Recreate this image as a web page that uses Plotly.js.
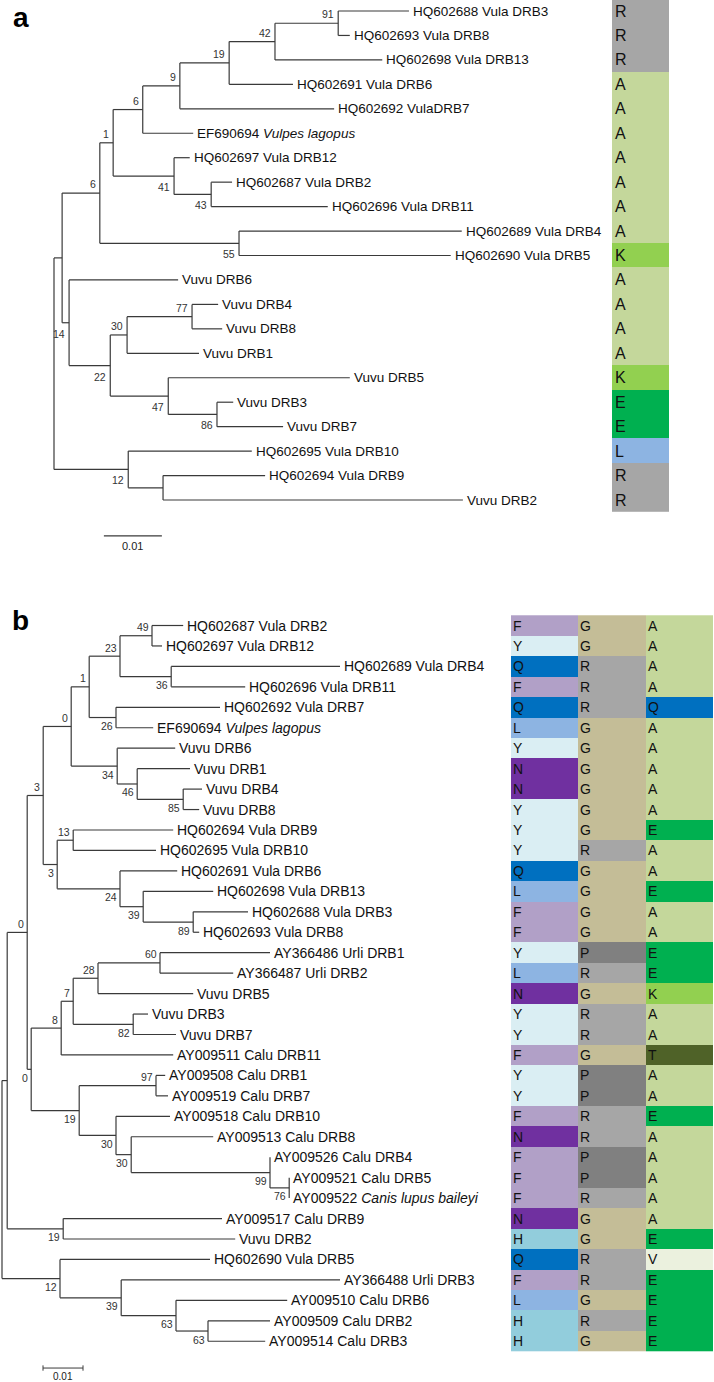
<!DOCTYPE html>
<html><head><meta charset="utf-8">
<script src="https://cdn.plot.ly/plotly-3.0.1.min.js"></script>
<style>html,body{margin:0;padding:0;background:#fff}#chart{width:714px;height:1382px}</style>
</head><body><div id="chart"></div>
<script>
// ================= Panel a =================
const leafNamesA = ['HQ602688 Vula DRB3','HQ602693 Vula DRB8','HQ602698 Vula DRB13','HQ602691 Vula DRB6','HQ602692 VulaDRB7','EF690694 <i>Vulpes lagopus</i>','HQ602697 Vula DRB12','HQ602687 Vula DRB2','HQ602696 Vula DRB11','HQ602689 Vula DRB4','HQ602690 Vula DRB5','Vuvu DRB6','Vuvu DRB4','Vuvu DRB8','Vuvu DRB1','Vuvu DRB5','Vuvu DRB3','Vuvu DRB7','HQ602695 Vula DRB10','HQ602694 Vula DRB9','Vuvu DRB2'];
const leafDepthA = [0.0612,0.0510,0.0566,0.0412,0.0483,0.0240,0.0234,0.0307,0.0472,0.0703,0.0684,0.0214,0.0283,0.0290,0.0250,0.0510,0.0309,0.0395,0.0341,0.0364,0.0705];
const nodeDepthA = [0,0.0014,0.0079,0.0102,0.0153,0.0217,0.0302,0.0381,0.0490,0.0207,0.0271,0.0319,0.0026,0.0097,0.0126,0.0238,0.0197,0.0281,0.0128,0.0188];
const nodeSupportA = ['','','6','1','6','9','19','42','91','41','43','55','14','22','30','77','47','86','12',''];
const nodeKidsA = ['n1 n18','n2 n12','n3 n11','n4 n9','n5 l5','n6 l4','n7 l3','n8 l2','l0 l1','l6 n10','l7 l8','l9 l10','l11 n13','n14 n16','n15 l14','l12 l13','l15 n17','l16 l17','l18 n19','l19 l20'];
const residueA = ['R','R','R','A','A','A','A','A','A','A','K','A','A','A','A','K','E','E','L','R','R'];

// ================= Panel b =================
const leafNamesB = ['HQ602687 Vula DRB2','HQ602697 Vula DRB12','HQ602689 Vula DRB4','HQ602696 Vula DRB11','HQ602692 Vula DRB7','EF690694 <i>Vulpes lagopus</i>','Vuvu DRB6','Vuvu DRB1','Vuvu DRB4','Vuvu DRB8','HQ602694 Vula DRB9','HQ602695 Vula DRB10','HQ602691 Vula DRB6','HQ602698 Vula DRB13','HQ602688 Vula DRB3','HQ602693 Vula DRB8','AY366486 Urli DRB1','AY366487 Urli DRB2','Vuvu DRB5','Vuvu DRB3','Vuvu DRB7','AY009511 Calu DRB11','AY009508 Calu DRB1','AY009519 Calu DRB7','AY009518 Calu DRB10','AY009513 Calu DRB8','AY009526 Calu DRB4','AY009521 Calu DRB5','AY009522 <i>Canis lupus baileyi</i>','AY009517 Calu DRB9','Vuvu DRB2','HQ602690 Vula DRB5','AY366488 Urli DRB3','AY009510 Calu DRB6','AY009509 Calu DRB2','AY009514 Calu DRB3'];
const leafDepthB = [0.0453,0.0400,0.0845,0.0608,0.0545,0.0378,0.0433,0.0470,0.0500,0.0493,0.0428,0.0385,0.0438,0.0528,0.0615,0.0493,0.0670,0.0578,0.0478,0.0365,0.0435,0.0428,0.0408,0.0415,0.0420,0.0528,0.0670,0.0718,0.0718,0.0550,0.0583,0.0520,0.0845,0.0713,0.0670,0.0658];
const nodeDepthB = [0,0.0013,0.0063,0.0103,0.0173,0.0218,0.0295,0.0375,0.0423,0.0285,0.0288,0.0338,0.0453,0.0138,0.0178,0.0295,0.0353,0.0478,0.0073,0.0148,0.0178,0.0240,0.0395,0.0328,0.0193,0.0385,0.0285,0.0323,0.0670,0.0718,0.0153,0.0145,0.0298,0.0435,0.0515];
const nodeSupportB = ['','','0','3','0','1','23','49','36','26','34','46','85','3','13','24','39','89','0','8','7','28','60','82','19','97','30','30','99','76','19','12','39','63','63'];
const nodeKidsB = ['n1 n31','n2 n30','n3 n18','n4 n13','n5 n10','n6 n9','n7 n8','l0 l1','l2 l3','l4 l5','l6 n11','l7 n12','l8 l9','n14 n15','l10 l11','l12 n16','l13 n17','l14 l15','n19 n24','n20 l21','n21 n23','n22 l18','l16 l17','l19 l20','n25 n26','l22 l23','l24 n27','l25 n28','l26 n29','l27 l28','l29 l30','l31 n32','l32 n33','l33 n34','l34 l35'];
const residueB1 = ['F','Y','Q','F','Q','L','Y','N','N','Y','Y','Y','Q','L','F','F','Y','L','N','Y','Y','F','Y','Y','F','N','F','F','F','N','H','Q','F','L','H','H'];
const residueB2 = ['G','G','R','R','R','G','G','G','G','G','G','R','G','G','G','G','P','R','G','R','R','G','P','P','R','R','P','P','R','G','G','R','R','G','R','G'];
const residueB3 = ['A','A','A','A','Q','A','A','A','A','A','E','A','A','E','A','A','E','E','K','A','A','T','A','A','E','A','A','A','A','A','E','V','E','E','E','E'];

const residueColors = {F:'#b1a0c7',Y:'#daeef3',Q:'#0070c0',L:'#8db4e2',N:'#7030a0',H:'#92cddc',G:'#c4bd97',R:'#a6a6a6',P:'#808080',A:'#c4d79b',E:'#00b050',K:'#92d050',T:'#4f6228',V:'#ebf1de'};
const scaleBar = 0.01;

const FONT = 'Liberation Sans, Arial, sans-serif';
const LINE = '#3a3a3a';

function buildTree(leafDepth, nodeDepth, nodeKids) {
  const kids = nodeKids.map(s => s.split(' '));
  const yCache = {};
  const role = {};
  function pos(ref) {
    const i = +ref.slice(1);
    if (ref[0] === 'l') return {x: leafDepth[i], y: i};
    if (yCache[ref] === undefined) {
      const k = kids[i];
      yCache[ref] = (pos(k[0]).y + pos(k[k.length - 1]).y) / 2;
    }
    return {x: nodeDepth[i], y: yCache[ref]};
  }
  const xs = [], ys = [];
  kids.forEach((k, i) => {
    const p = pos('n' + i);
    xs.push(p.x, p.x, null); ys.push(pos(k[0]).y, pos(k[k.length - 1]).y, null);
    k.forEach((c, j) => {
      const q = pos(c);
      xs.push(p.x, q.x, null); ys.push(q.y, q.y, null);
      if (c[0] === 'n') role[c] = (j === 0) ? 'upper' : 'lower';
    });
  });
  const nodes = kids.map((k, i) => ({x: nodeDepth[i], y: pos('n' + i).y, role: role['n' + i]}));
  return {xs, ys, nodes};
}

const letters = Object.keys(residueColors);
const nL = letters.length;
const colorscale = [];
letters.forEach((l, k) => { colorscale.push([k / nL, residueColors[l]], [(k + 1) / nL, residueColors[l]]); });

const treeA = buildTree(leafDepthA, nodeDepthA, nodeKidsA);
const treeB = buildTree(leafDepthB, nodeDepthB, nodeKidsB);

const traces = [];
const annotations = [];

// tree lines
traces.push({type:'scatter', mode:'lines', x:treeA.xs, y:treeA.ys, xaxis:'x', yaxis:'y', line:{color:LINE, width:1.2}, hoverinfo:'skip', showlegend:false});
traces.push({type:'scatter', mode:'lines', x:treeB.xs, y:treeB.ys, xaxis:'x2', yaxis:'y2', line:{color:LINE, width:1.2}, hoverinfo:'skip', showlegend:false});

// heatmaps (residue cells)
traces.push({type:'heatmap', x:[0], y:residueA.map((_, i) => i), z:residueA.map(r => [letters.indexOf(r)]),
  xaxis:'x3', yaxis:'y', colorscale, zmin:-0.5, zmax:nL - 0.5, showscale:false, hoverinfo:'skip'});
traces.push({type:'heatmap', x:[0,1,2], y:residueB1.map((_, i) => i),
  z:residueB1.map((r, i) => [letters.indexOf(r), letters.indexOf(residueB2[i]), letters.indexOf(residueB3[i])]),
  xaxis:'x4', yaxis:'y2', colorscale, zmin:-0.5, zmax:nL - 0.5, showscale:false, hoverinfo:'skip'});

// leaf labels
leafNamesA.forEach((n, i) => annotations.push({xref:'x', yref:'y', x:leafDepthA[i], y:i, text:n, showarrow:false, xanchor:'left', yanchor:'middle', xshift:2, font:{family:FONT, size:13.5, color:'#111'}}));
leafNamesB.forEach((n, i) => annotations.push({xref:'x2', yref:'y2', x:leafDepthB[i], y:i, text:n, showarrow:false, xanchor:'left', yanchor:'middle', xshift:2, font:{family:FONT, size:14, color:'#111'}}));

// bootstrap values
treeA.nodes.forEach((nd, i) => {
  if (!nodeSupportA[i]) return;
  annotations.push({xref:'x', yref:'y', x:nd.x, y:nd.y, text:nodeSupportA[i], showarrow:false, xanchor:'right', yanchor:'middle',
    xshift:-2, yshift: nd.role === 'upper' ? 9 : -11, font:{family:FONT, size:10.5, color:'#333'}});
});
treeB.nodes.forEach((nd, i) => {
  if (!nodeSupportB[i]) return;
  annotations.push({xref:'x2', yref:'y2', x:nd.x, y:nd.y, text:nodeSupportB[i], showarrow:false, xanchor:'right', yanchor:'middle',
    xshift:-1, yshift: nd.role === 'upper' ? 8.5 : -8.5, font:{family:FONT, size:10.5, color:'#333'}});
});

// residue letters
residueA.forEach((r, i) => annotations.push({xref:'x3', yref:'y', x:-0.5, y:i, text:r, showarrow:false, xanchor:'left', yanchor:'middle', xshift:1, font:{family:FONT, size:16, color:'#111'}}));
[residueB1, residueB2, residueB3].forEach((col, c) => col.forEach((r, i) => annotations.push({xref:'x4', yref:'y2', x:c - 0.5, y:i, text:r, showarrow:false, xanchor:'left', yanchor:'middle', xshift:0, font:{family:FONT, size:14, color:'#111'}})));

// scale bars
const sbA0 = 0.0086, sbAy = 21.47;
traces.push({type:'scatter', mode:'lines', x:[sbA0, sbA0 + scaleBar], y:[sbAy, sbAy], xaxis:'x', yaxis:'y', line:{color:LINE, width:1.2}, hoverinfo:'skip', showlegend:false});
annotations.push({xref:'x', yref:'y', x:sbA0 + scaleBar / 2, y:sbAy, text:String(scaleBar), showarrow:false, xanchor:'center', yanchor:'top', yshift:-2, font:{family:FONT, size:11, color:'#222'}});
const sbB0 = 0.01025, sbBy = 36.31, tk = 0.13;
traces.push({type:'scatter', mode:'lines', x:[sbB0, sbB0 + scaleBar, null, sbB0, sbB0, null, sbB0 + scaleBar, sbB0 + scaleBar], y:[sbBy, sbBy, null, sbBy - tk, sbBy + tk, null, sbBy - tk, sbBy + tk], xaxis:'x2', yaxis:'y2', line:{color:LINE, width:1}, hoverinfo:'skip', showlegend:false});
annotations.push({xref:'x2', yref:'y2', x:sbB0 + scaleBar / 2, y:sbBy, text:String(scaleBar), showarrow:false, xanchor:'center', yanchor:'top', yshift:-1, font:{family:FONT, size:10, color:'#222'}});

// panel letters
annotations.push({xref:'paper', yref:'paper', x:11 / 714, y:1 - 17 / 1382, text:'<b>a</b>', showarrow:false, xanchor:'left', yanchor:'middle', font:{family:FONT, size:28, color:'#000'}});
annotations.push({xref:'paper', yref:'paper', x:10 / 714, y:1 - 620 / 1382, text:'<b>b</b>', showarrow:false, xanchor:'left', yanchor:'middle', font:{family:FONT, size:28, color:'#000'}});

const W = 714, H = 1382;
const hid = {visible:false, showgrid:false, zeroline:false, fixedrange:true};
// panel a: root at 54px, 5800 px per unit; leaves at 11px + 24.45px*i, panel spans 0..560px
// panel b: root at 2px, 4000 px per unit; leaves at 625.5px + 20.45px*i, panel spans 580..1382px
const layout = {
  width:W, height:H, margin:{l:0, r:0, t:0, b:0}, paper_bgcolor:'#fff', plot_bgcolor:'rgba(0,0,0,0)',
  showlegend:false,
  xaxis: Object.assign({}, hid, {domain:[0, 1], range:[-54 / 5800, (W - 54) / 5800], anchor:'y'}),
  yaxis: Object.assign({}, hid, {domain:[1 - 560 / H, 1], range:[(560 - 11) / 24.45, -11 / 24.45], anchor:'x'}),
  xaxis2: Object.assign({}, hid, {domain:[0, 1], range:[-2 / 4000, (W - 2) / 4000], anchor:'y2'}),
  yaxis2: Object.assign({}, hid, {domain:[0, (H - 580) / H], range:[(H - 625.5) / 20.45, (580 - 625.5) / 20.45], anchor:'x2'}),
  xaxis3: Object.assign({}, hid, {domain:[612 / W, 669 / W], range:[-0.5, 0.5], anchor:'y'}),
  xaxis4: Object.assign({}, hid, {domain:[511 / W, 713 / W], range:[-0.5, 2.5], anchor:'y2'}),
  annotations
};
Plotly.newPlot('chart', traces, layout, {displayModeBar:false, staticPlot:true});
</script>
</body></html>
